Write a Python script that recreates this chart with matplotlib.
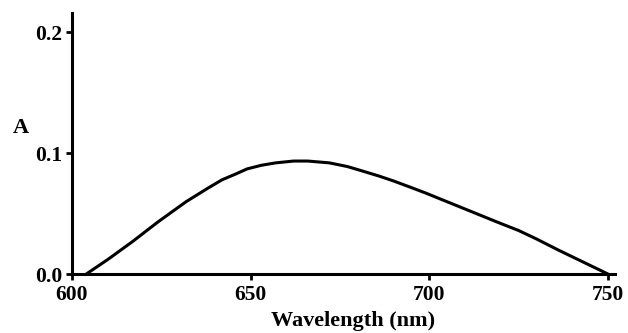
import matplotlib
matplotlib.use("Agg")
import matplotlib.pyplot as plt

# absorbance spectrum, values
wavelength = [604, 610, 617, 624, 632, 638, 642, 646, 649, 653, 657, 662, 666, 672, 677, 681, 686, 690, 695, 699,
              704, 709, 714, 719, 725, 730, 736, 743, 750]
absorbance = [0.0, 0.012, 0.027, 0.043, 0.060, 0.071, 0.078, 0.083, 0.087, 0.090, 0.092, 0.0935, 0.0935, 0.092, 0.089,
              0.0855, 0.081, 0.077, 0.0715, 0.067, 0.061, 0.055, 0.049, 0.043, 0.036, 0.029, 0.020, 0.010, 0.0]

x_ticks = [600, 650, 700, 750]
y_ticks = [0.0, 0.1, 0.2]

plt.rcParams["font.family"] = ["Liberation Serif", "DejaVu Serif"]
plt.rcParams["font.weight"] = "bold"

fig = plt.figure(figsize=(6.28, 3.33), dpi=100)
ax = fig.add_axes([0.1146, 0.177, 0.865, 0.784])

ax.plot(wavelength, absorbance, color="black", linewidth=2.2,
        solid_joinstyle="round", solid_capstyle="round")

ax.set_xlim(600, 752)
ax.set_ylim(0, 0.216)
ax.set_xticks(x_ticks)
ax.set_xticklabels([str(v) for v in x_ticks])
ax.set_yticks(y_ticks)
ax.set_yticklabels([f"{v:.1f}" for v in y_ticks])

for side in ("top", "right"):
    ax.spines[side].set_visible(False)
for side in ("left", "bottom"):
    ax.spines[side].set_linewidth(2.2)

ax.tick_params(direction="out", length=4, width=2, labelsize=15.5)
ax.tick_params(axis="x", pad=4)
ax.tick_params(axis="y", pad=3)
for lbl in ax.get_xticklabels() + ax.get_yticklabels():
    lbl.set_fontweight("bold")

ax.set_xlabel("Wavelength (nm)", fontsize=16, fontweight="bold")
ax.xaxis.set_label_coords(0.518, -0.14)
ax.set_ylabel("A", fontsize=16, fontweight="bold", rotation=0)
ax.yaxis.set_label_coords(-0.095, 0.52)

fig.savefig("out.png", dpi=100)
